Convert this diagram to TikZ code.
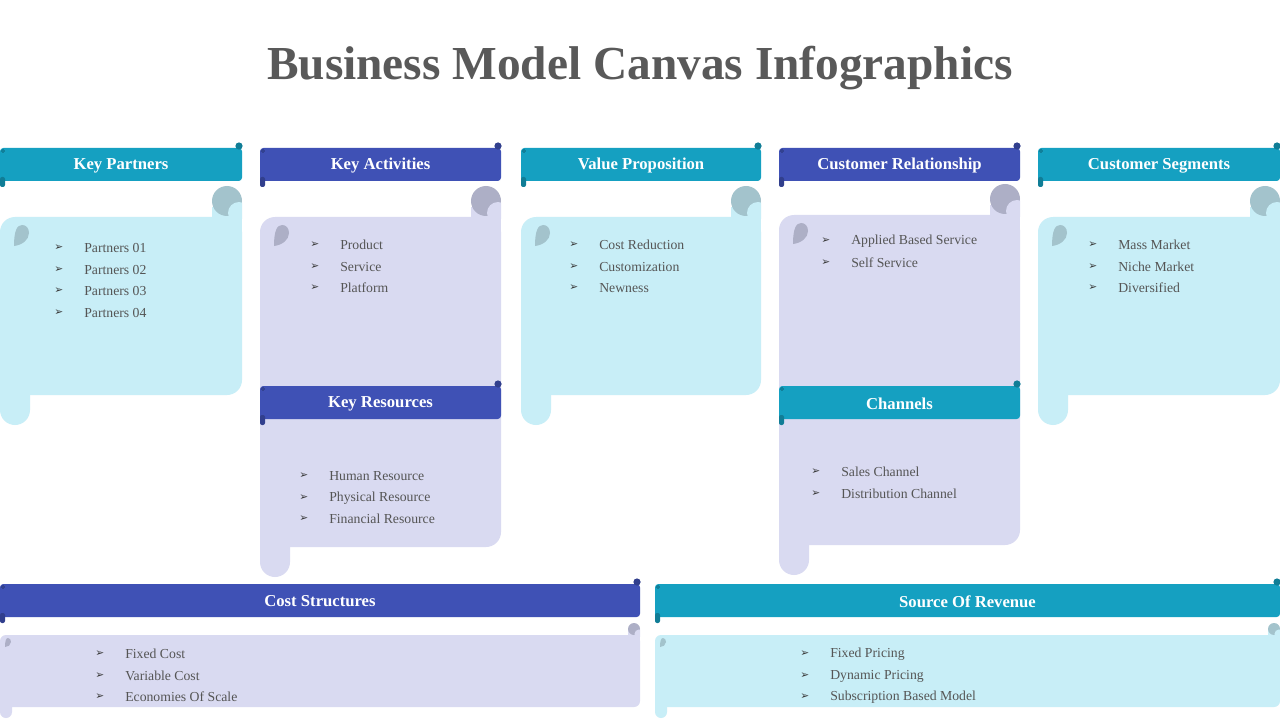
\documentclass[tikz,border=0pt]{standalone}
\usepackage{fontspec}
\setmainfont{Liberation Serif}
\newfontfamily\bulfont{DejaVu Sans}
\definecolor{tealh}{HTML}{15A0C1}
\definecolor{blueh}{HTML}{3F51B5}
\definecolor{lblue}{HTML}{C8EEF7}
\definecolor{lvend}{HTML}{D9DAF1}
\definecolor{curlb}{HTML}{A3C3CC}
\definecolor{curll}{HTML}{ADAFC6}
\definecolor{titlec}{HTML}{595959}
\definecolor{txtc}{HTML}{555555}
\tikzset{
  htext/.style={text=white,font=\fontsize{12.5}{14}\selectfont\bfseries,inner sep=0pt},
  btxt/.style={text=txtc,font=\fontsize{10.3}{12}\selectfont,anchor=west,inner sep=0pt},
  bul/.style={text=black!78,font=\bulfont\fontsize{8}{9}\selectfont,anchor=west,inner sep=0pt},
}
% header banner: name, x1, y1, x2, y2, colour, text
\newcommand\mkheader[7]{%
  \fill[#6, rounded corners=2.5pt] (#2,#3) rectangle (#4,#5);
  \fill[#6!78!black] ({#4-3},{#3-2}) circle[radius=2.7pt];
  \fill[#6!78!black, rounded corners=1.5pt] (#2,{#5-4}) rectangle ({#2+5},{#5+6});
  \draw[#6!60!black, line width=0.4pt] ({#2+3},{#3+3}) circle[radius=1.1pt];
  \node[htext] (#1) at ({(#2+#4)/2},{(#3+#5)/2+1}) {#7};
}
% tall scroll: x1, top, x2, bottom, tabbottom, body colour, curl colour
\newcommand\mkscroll[7]{%
  \fill[#6, rounded corners=11.25pt] (#1,#2) rectangle (#3,#4);
  \fill[#6] ({#3-30},#2) rectangle (#3,{#2+25});
  \fill[#6] ({#3-30},{#2-10}) rectangle (#3,{#2+1});
  \fill[#6] (#1,{#4-25}) rectangle ({#1+30},#4);
  \fill[#6, rounded corners=11.25pt] (#1,{#4-20}) rectangle ({#1+30},#5);
  \fill[#7] ({#3-15},{#2-16}) circle[radius=11.25pt];
  \begin{scope}
    \clip ({#3-30},{#2-35}) rectangle (#3,{#2+2});
    \fill[#6] ({#3-3},{#2-4}) circle[radius=8.25pt];
  \end{scope}
  \fill[#7] ({#1+14},{#2+29}) .. controls ({#1+14},{#2+14}) and ({#1+17},{#2+8}) .. ({#1+22},{#2+8})
     .. controls ({#1+26},{#2+8}) and ({#1+29},{#2+11}) .. ({#1+29},{#2+16})
     .. controls ({#1+29},{#2+23}) and ({#1+22},{#2+28}) .. ({#1+14},{#2+29}) -- cycle;
}
% wide scroll: x1, x2, body colour, curl colour
\newcommand\mkwide[4]{%
  \fill[#3, rounded corners=4.5pt] (#1,635) rectangle (#2,707);
  \fill[#3] ({#2-12},630) rectangle (#2,645);
  \fill[#3] (#1,695) rectangle ({#1+12},707);
  \fill[#3, rounded corners=4.5pt] (#1,698) rectangle ({#1+12},718);
  \fill[#4] ({#2-6},629) circle[radius=4.5pt];
  \begin{scope}
    \clip ({#2-12},620) rectangle (#2,636);
    \fill[#3] ({#2-1},634) circle[radius=3.4pt];
  \end{scope}
  \fill[#4] ({#1+5},647) .. controls ({#1+5},641) and ({#1+6},638) .. ({#1+8},638)
     .. controls ({#1+10},638) and ({#1+11},640) .. ({#1+11},642)
     .. controls ({#1+11},645) and ({#1+8},647) .. ({#1+5},647) -- cycle;
}
% item: name, bullet x, text x, y, text
\newcommand\itm[5]{%
  \node[bul] (#1b) at (#2,#4) {➢};
  \node[btxt] (#1) at (#3,#4) {#5};
}
\begin{document}
\begin{tikzpicture}[x=0.75pt,y=-0.75pt]
\useasboundingbox[fill=white] (0,0) rectangle (1280,720);
\node[text=titlec,font=\fontsize{35.5}{40}\selectfont\bfseries] (title) at (640,68) {Business Model Canvas Infographics};

% column 1
\mkscroll{0}{217}{242}{395}{425}{lblue}{curlb}
\mkheader{kp}{0}{148}{242}{181}{tealh}{Key Partners}
\itm{kp1}{54}{84}{248}{Partners 01}
\itm{kp2}{54}{84}{270}{Partners 02}
\itm{kp3}{54}{84}{291}{Partners 03}
\itm{kp4}{54}{84}{313}{Partners 04}

% column 2
\mkscroll{260}{217}{501}{547}{577}{lvend}{curll}
\mkheader{ka}{260}{148}{501}{181}{blueh}{Key Activities}
\itm{ka1}{310}{340}{245}{Product}
\itm{ka2}{310}{340}{267}{Service}
\itm{ka3}{310}{340}{288}{Platform}
\mkheader{kr}{260}{386}{501}{419}{blueh}{Key Resources}
\itm{kr1}{299}{329}{476}{Human Resource}
\itm{kr2}{299}{329}{498}{Physical Resource}
\itm{kr3}{299}{329}{519}{Financial Resource}

% column 3
\mkscroll{521}{217}{761}{395}{425}{lblue}{curlb}
\mkheader{vp}{521}{148}{761}{181}{tealh}{Value Proposition}
\itm{vp1}{569}{599}{245}{Cost Reduction}
\itm{vp2}{569}{599}{267}{Customization}
\itm{vp3}{569}{599}{288}{Newness}

% column 4
\mkscroll{779}{215}{1020}{545}{575}{lvend}{curll}
\mkheader{cr}{779}{148}{1020}{181}{blueh}{Customer Relationship}
\itm{cr1}{821}{851}{241}{Applied Based Service}
\itm{cr2}{821}{851}{263}{Self Service}
\mkheader{ch}{779}{386}{1020}{419}{tealh}{Channels}
\itm{ch1}{811}{841}{472}{Sales Channel}
\itm{ch2}{811}{841}{494}{Distribution Channel}

% column 5
\mkscroll{1038}{217}{1280}{395}{425}{lblue}{curlb}
\mkheader{cs}{1038}{148}{1280}{181}{tealh}{Customer Segments}
\itm{cs1}{1088}{1118}{245}{Mass Market}
\itm{cs2}{1088}{1118}{267}{Niche Market}
\itm{cs3}{1088}{1118}{288}{Diversified}

% bottom
\mkwide{0}{640}{lvend}{curll}
\mkheader{cost}{0}{584}{640}{617}{blueh}{Cost Structures}
\itm{co1}{95}{125}{654}{Fixed Cost}
\itm{co2}{95}{125}{676}{Variable Cost}
\itm{co3}{95}{125}{697}{Economies Of Scale}

\mkwide{655}{1280}{lblue}{curlb}
\mkheader{rev}{655}{584}{1280}{617}{tealh}{Source Of Revenue}
\itm{rv1}{800}{830}{654}{Fixed Pricing}
\itm{rv2}{800}{830}{676}{Dynamic Pricing}
\itm{rv3}{800}{830}{697}{Subscription Based Model}
\end{tikzpicture}
\end{document}
